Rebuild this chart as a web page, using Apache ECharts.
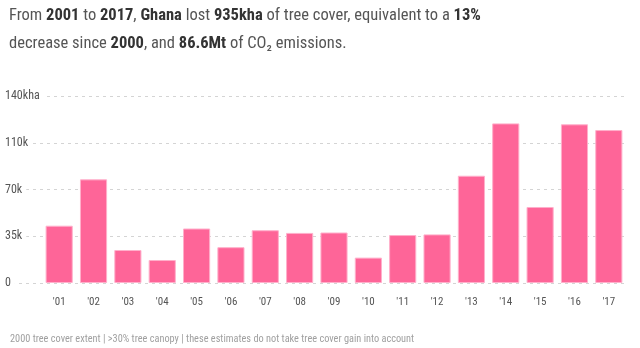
<!DOCTYPE html>
<html><head><meta charset="utf-8">
<script src="https://cdn.jsdelivr.net/npm/echarts@6/dist/echarts.min.js"></script>
<style>html,body{margin:0;padding:0;background:#fff}#c{width:640px;height:348px}</style>
</head><body><div id="c"></div>
<script>
var categories = ["'01","'02","'03","'04","'05","'06","'07","'08","'09","'10","'11","'12","'13","'14","'15","'16","'17"];
var treeCoverLoss = [42900,77600,24700,17200,40800,26800,39500,37500,37800,19000,35900,36400,80300,119500,56900,118800,114500];
var tickValues = [0,35000,70000,105000,140000];
var tickLabels = ["0","35k","70k","110k","140kha"];

var FONT = '"Roboto Condensed","Roboto",sans-serif';
var chart = echarts.init(document.getElementById('c'), null, {renderer:'canvas'});
chart.setOption({
  animation:false,
  textStyle:{fontFamily:FONT},
  title:[{
    left:4, top:-3,
    text:'From {b|2001} to {b|2017}, {b|Ghana} lost {b|935kha} of tree cover, equivalent to a {b|13%}\ndecrease since {b|2000}, and {b|86.6Mt} of CO₂ emissions.',
    textStyle:{fontFamily:FONT,fontSize:16.5,color:'#555',fontWeight:'normal',lineHeight:28,
      rich:{b:{fontFamily:FONT,fontSize:16.5,color:'#333',fontWeight:'bold',lineHeight:28}}}
  },{
    left:5, top:329,
    text:'2000 tree cover extent | >30% tree canopy | these estimates do not take tree cover gain into account',
    textStyle:{fontFamily:FONT,fontSize:10.3,color:'#a0a0a0',fontWeight:'normal'}
  }],
  grid:[{left:42,right:14,top:96,bottom:65},{left:5,right:16,top:96,bottom:65}],
  xAxis:[{type:'category',gridIndex:0,data:categories,
    axisLine:{show:false},axisTick:{show:false},
    axisLabel:{color:'#555',fontSize:11,margin:14,fontFamily:FONT}},
    {type:'category',gridIndex:1,data:categories,show:false}],
  yAxis:[{type:'value',gridIndex:0,min:0,max:140000,interval:35000,show:false,splitLine:{show:false}},
    {type:'value',gridIndex:1,min:0,max:140000,interval:35000,
      axisLine:{show:false},axisTick:{show:false},
      splitLine:{show:true,lineStyle:{color:'#d4d4d4',type:[3,4],width:1}},
      axisLabel:{inside:true,margin:0,color:'#555',fontSize:12,fontFamily:FONT,
        backgroundColor:'#fff',padding:[2,4,2,0],
        formatter:function(v){var i=tickValues.indexOf(v);return i>=0?tickLabels[i]:'';}}}],
  series:[{type:'bar',xAxisIndex:0,yAxisIndex:0,data:treeCoverLoss,barCategoryGap:'21%',
    itemStyle:{color:'#fe6598',borderColor:'#ffb0cb',borderWidth:1}}]
});
</script></body></html>
